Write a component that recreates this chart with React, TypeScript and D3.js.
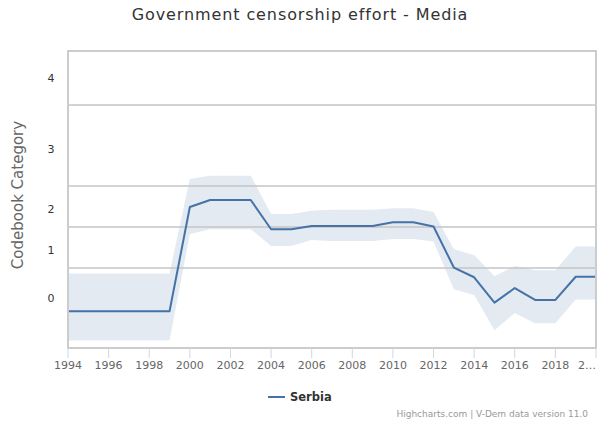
import React from "react";
import * as d3 from "d3";

const years = [1994, 1995, 1996, 1997, 1998, 1999, 2000, 2001, 2002, 2003, 2004, 2005, 2006, 2007, 2008, 2009, 2010, 2011, 2012, 2013, 2014, 2015, 2016, 2017, 2018, 2019, 2020];
const serbiaMedian = [-1.82, -1.82, -1.82, -1.82, -1.82, -1.82, 0.11, 0.24, 0.24, 0.24, -0.3, -0.3, -0.24, -0.24, -0.24, -0.24, -0.17, -0.17, -0.25, -1.01, -1.19, -1.66, -1.39, -1.61, -1.61, -1.18, -1.18];
const serbiaUpper = [-1.12, -1.12, -1.12, -1.12, -1.12, -1.12, 0.63, 0.69, 0.69, 0.69, -0.02, -0.02, 0.04, 0.06, 0.06, 0.06, 0.09, 0.09, 0.02, -0.67, -0.78, -1.17, -0.98, -1.06, -1.06, -0.62, -0.62];
const serbiaLower = [-2.36, -2.36, -2.36, -2.36, -2.36, -2.36, -0.39, -0.3, -0.3, -0.3, -0.61, -0.61, -0.5, -0.52, -0.52, -0.52, -0.48, -0.48, -0.53, -1.41, -1.52, -2.17, -1.85, -2.04, -2.04, -1.6, -1.6];

const categoryThresholds = [2.0, 0.5, -0.26, -1.02];
const categoryLabels = ["4", "3", "2", "1", "0"];
const categoryLabelPositions = [2.49, 1.18, 0.07, -0.69, -1.58];
const xTickYears = [1994, 1996, 1998, 2000, 2002, 2004, 2006, 2008, 2010, 2012, 2014, 2016, 2018, 2020];

const W = 598;
const H = 429;
const plot = { left: 68, right: 596, top: 51, bottom: 348 };
const lineColor = "#4572A7";

export default function App() {
  const x = d3.scaleLinear().domain([1994, 2020]).range([plot.left, plot.right]);
  const y = d3.scaleLinear().domain([-2.5, 3.0]).range([plot.bottom, plot.top]);

  const data = years.map((yr, i) => ({ yr, m: serbiaMedian[i], lo: serbiaLower[i], hi: serbiaUpper[i] }));
  const area = d3
    .area<any>()
    .x((d) => x(d.yr))
    .y0((d) => y(d.lo))
    .y1((d) => y(d.hi));
  const line = d3
    .line<any>()
    .x((d) => x(d.yr))
    .y((d) => y(d.m));

  const font = "'DejaVu Sans', 'Lucida Grande', sans-serif";
  const lastTick = xTickYears[xTickYears.length - 1];

  return (
    <svg width={W} height={H} style={{ position: "absolute", left: 0, top: 0, background: "#fff" }} fontFamily={font}>
      <rect x={0} y={0} width={W} height={H} fill="#fff" />
      <text x={300} y={20} textAnchor="middle" fontSize={16} letterSpacing={0.9} fill="#333">
        Government censorship effort - Media
      </text>

      <path d={area(data) || ""} fill="rgba(69,114,167,0.15)" />

      {categoryThresholds.map((t) => (
        <line key={t} x1={plot.left} x2={plot.right} y1={y(t)} y2={y(t)} stroke="#c4c4c4" strokeWidth={1.5} />
      ))}

      <path d={line(data) || ""} fill="none" stroke={lineColor} strokeWidth={2} strokeLinejoin="round" />

      <rect
        x={plot.left}
        y={plot.top}
        width={plot.right - plot.left}
        height={plot.bottom - plot.top}
        fill="none"
        stroke="#cccccc"
        strokeWidth={2}
      />

      {xTickYears.map((t) => (
        <g key={t}>
          <line x1={x(t)} x2={x(t)} y1={plot.bottom} y2={plot.bottom + 10} stroke="#d0d6e0" strokeWidth={1} />
          {t === lastTick ? (
            <text x={W - 2} y={369} textAnchor="end" fontSize={11} fill="#666">
              {String(t).slice(0, 1) + "…"}
            </text>
          ) : (
            <text x={x(t)} y={369} textAnchor="middle" fontSize={11} fill="#666">
              {t}
            </text>
          )}
        </g>
      ))}

      {categoryLabels.map((lab, i) => (
        <text key={lab} x={51} y={y(categoryLabelPositions[i])} dy="0.35em" textAnchor="middle" fontSize={11} fill="#333">
          {lab}
        </text>
      ))}

      <text transform="translate(23,195) rotate(-90)" textAnchor="middle" fontSize={15} fill="#666">
        Codebook Category
      </text>

      <line x1={268} x2={285} y1={397} y2={397} stroke={lineColor} strokeWidth={2} />
      <text x={290} y={401} fontSize={11.5} fontWeight="bold" fill="#333">
        Serbia
      </text>

      <text x={588} y={417} textAnchor="end" fontSize={9} fill="#999">
        Highcharts.com | V-Dem data version 11.0
      </text>
    </svg>
  );
}
